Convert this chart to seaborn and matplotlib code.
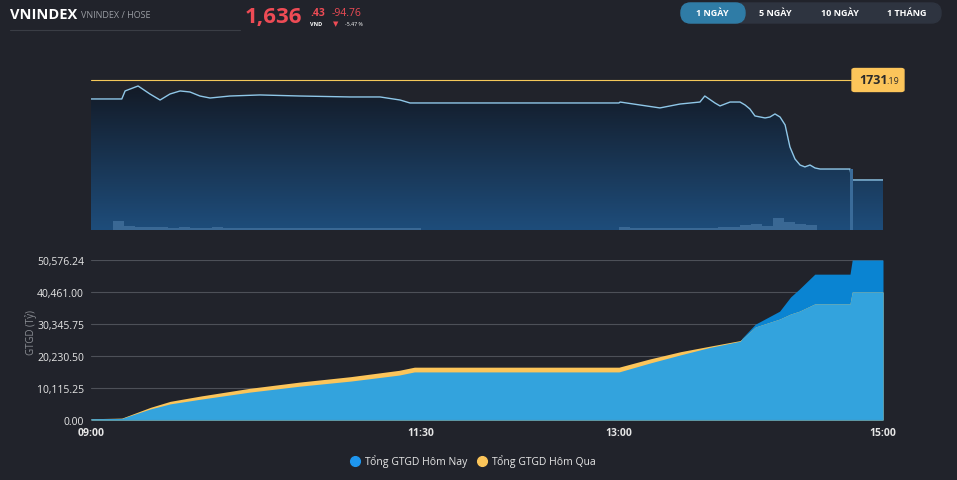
import numpy as np
import pandas as pd
import matplotlib
matplotlib.use("Agg")
import matplotlib.pyplot as plt
from matplotlib.patches import FancyBboxPatch, Polygon
from matplotlib.colors import LinearSegmentedColormap
import seaborn as sns

# ---------------- data ----------------
price_minutes = [0, 14, 15.5, 21.4, 26.8, 31.4, 35.9, 40.5, 45, 49.5, 54.1, 63.2, 76.8, 95, 117.7,
                 131.4, 140.5, 145, 240, 240.5, 249.5, 258.6, 267.7, 276.8, 279, 283.6, 285.9, 290.5,
                 295, 297.3, 299.5, 301.8, 306.4, 308.6, 310.9, 313.2, 315.5, 317.7, 320, 322.3, 324.5,
                 326.8, 329.1, 331.4, 345, 345.9, 360]
price_values = [1713.2, 1713.2, 1720.8, 1725.5, 1717.9, 1712.2, 1717.9, 1720.8, 1719.8, 1716.0, 1714.1,
                1716.0, 1717.0, 1716.0, 1715.1, 1715.1, 1712.2, 1709.4, 1709.4, 1710.3, 1707.5, 1704.7,
                1708.4, 1710.3, 1716.0, 1709.4, 1706.6, 1710.3, 1710.3, 1707.5, 1703.7, 1697.1, 1695.2,
                1696.1, 1699.0, 1696.1, 1688.6, 1667.7, 1656.3, 1650.6, 1648.8, 1650.6, 1647.8, 1646.8,
                1646.8, 1636.43, 1636.43]
reference_price = 1731.19

volume_bins = list(range(0, 360, 5))
volume_values = [0, 0, 9, 4, 3, 3, 3, 2, 3, 2, 2, 3, 2, 2, 2, 2, 2, 2, 2, 2, 2, 2, 2, 2, 2, 2, 2, 2, 2, 2,
                 0, 0, 0, 0, 0, 0, 0, 0, 0, 0, 0, 0, 0, 0, 0, 0, 0, 0,
                 3, 2, 2, 2, 2, 2, 2, 2, 2, 3, 3, 5, 6, 4, 12, 8, 6, 5, 0, 0, 0, 0, 0, 0]
atc_minute = 345.5
atc_volume = 61

value_minutes = [0, 14, 27, 36, 50, 72, 95, 118, 140, 147, 150, 240, 254, 268, 281, 295, 296, 302, 313,
                 318, 322, 329, 345, 346, 360]
today_values = [400, 500, 3500, 5100, 6600, 8800, 10700, 12300, 14200, 15200, 15200, 15200, 18000, 20600,
                22900, 24900, 25900, 30300, 34400, 38900, 41400, 46100, 46100, 50576.24, 50576.24]
yesterday_values = [400, 600, 4000, 5900, 7600, 10000, 12000, 13700, 15700, 16700, 16700, 16700, 19300,
                    21600, 23300, 25100, 25600, 29400, 31900, 33500, 34400, 36700, 36700, 40461, 40461]

y_ticks = [0, 10115.25, 20230.50, 30345.75, 40461.00, 50576.24]
x_ticks = [0, 150, 240, 360]
x_tick_labels = ["09:00", "11:30", "13:00", "15:00"]
legend_labels = ["Tổng GTGD Hôm Nay", "Tổng GTGD Hôm Qua"]

BG = "#21232b"
sns.set_theme(style="dark", rc={"axes.facecolor": BG, "figure.facecolor": BG, "font.family": "Open Sans"})

fig = plt.figure(figsize=(9.57, 4.81), dpi=100)
W, H = 957, 481
def rect(x0, y0, x1, y1):
    return [x0 / W, 1 - y1 / H, (x1 - x0) / W, (y1 - y0) / H]

# ---------------- top chart ----------------
ax1 = fig.add_axes(rect(91, 70, 883, 231))
ax1.set_facecolor(BG)
ymin, ymax = 1589.0, 1741.6
df_p = pd.DataFrame({"m": price_minutes, "p": price_values})
grad = np.linspace(0, 1, 256).reshape(-1, 1)
cmap = LinearSegmentedColormap.from_list("g", ["#1e4d7b", "#131a26"])
im = ax1.imshow(grad, extent=[0, 360, ymin, max(price_values)], origin="lower", aspect="auto",
                cmap=cmap, zorder=1)
verts = [(m, p) for m, p in zip(price_minutes, price_values)] + [(360, ymin), (0, ymin)]
clip = Polygon(verts, closed=True, transform=ax1.transData, facecolor="none", edgecolor="none")
ax1.add_patch(clip)
im.set_clip_path(clip)
sns.lineplot(data=df_p, x="m", y="p", ax=ax1, color="#8fc7e8", lw=1.0, zorder=3)
ax1.axhline(reference_price, color="#f5c85a", lw=0.8, zorder=2)

axv = ax1.twinx()
axv.bar(volume_bins, volume_values, width=5, align="edge", color="#3a6894", edgecolor="none",
        linewidth=0, zorder=2)
axv.bar([atc_minute], [atc_volume], width=1.4, color="#3a6b99", edgecolor="none", linewidth=0, zorder=2)
axv.set_ylim(0, 161)
for a in (ax1, axv):
    a.set_xlim(0, 360)
    a.set_xticks([]); a.set_yticks([])
    a.set_xlabel(""); a.set_ylabel("")
    for s in a.spines.values():
        s.set_visible(False)
ax1.set_ylim(ymin, ymax)

# reference label
fig.patches.append(FancyBboxPatch((853 / W, 1 - 92 / H), 50 / W, 22 / H,
                                  boxstyle="round,pad=0.001,rounding_size=0.003",
                                  transform=fig.transFigure, color="#fcc55a"))
fig.text(859 / W, 1 - 81 / H, "1731", color="#2a2a2a", fontsize=9, fontweight="bold", va="center")
fig.text(886 / W, 1 - 82 / H, ".19", color="#2a2a2a", fontsize=6.5, va="center")

# ---------------- bottom chart ----------------
ax2 = fig.add_axes(rect(91, 261, 883, 421))
ax2.set_facecolor(BG)
df = pd.DataFrame({"m": value_minutes, "today": today_values, "yesterday": yesterday_values})
lower = np.minimum(df["today"], df["yesterday"])
ax2.fill_between(df["m"], 0, df["today"], color="#0a84d2", lw=0, zorder=2)
ax2.fill_between(df["m"], 0, df["yesterday"], color="#fcc55a", lw=0, zorder=2)
ax2.fill_between(df["m"], 0, lower, color="#33a3dd", lw=0, zorder=3)
sns.lineplot(data=df, x="m", y="today", ax=ax2, color="#0a84d2", lw=0, zorder=1)
ax2.set_xlim(0, 360)
ax2.set_ylim(0, 50576.24)
ax2.set_yticks(y_ticks)
ax2.set_yticklabels([f"{v:,.2f}" for v in y_ticks], color="#e6e6e6", fontsize=7.5)
ax2.set_xticks(x_ticks)
ax2.set_xticklabels(x_tick_labels, color="#e6e6e6", fontsize=7.5, fontweight="bold")
ax2.tick_params(length=0, pad=5)
ax2.grid(axis="y", color="#4d5058", lw=0.8, zorder=0)
ax2.grid(axis="x", visible=False)
ax2.set_axisbelow(True)
for s in ax2.spines.values():
    s.set_visible(False)
ax2.axhline(0, color="#777a80", lw=0.8, zorder=4)
ax2.set_xlabel("")
ax2.set_ylabel("GTGD (Tỷ)", color="#8a8d93", fontsize=7)
ax2.yaxis.set_label_coords(-0.068, 0.55)

# legend
fig.add_artist(plt.Line2D([355 / W], [1 - 462 / H], marker="o", ms=7, color="#1e96ef", lw=0))
fig.text(365 / W, 1 - 462 / H, legend_labels[0], color="#e6e6e6", fontsize=7.5, va="center")
fig.add_artist(plt.Line2D([482 / W], [1 - 462 / H], marker="o", ms=7, color="#fcc55a", lw=0))
fig.text(492 / W, 1 - 462 / H, legend_labels[1], color="#e6e6e6", fontsize=7.5, va="center")

# ---------------- header ----------------
fig.text(10 / W, 1 - 15 / H, "VNINDEX", color="white", fontsize=10.5, fontweight="bold", va="center")
fig.text(81 / W, 1 - 16 / H, "VNINDEX / HOSE", color="#9a9da3", fontsize=6.5, va="center")
fig.add_artist(plt.Line2D([10 / W, 240 / W], [1 - 31 / H] * 2, color="#3a3d45", lw=0.8))
fig.text(245 / W, 1 - 18 / H, "1,636", color="#ee4b55", fontsize=16, fontweight="bold", va="center")
fig.text(310 / W, 1 - 13 / H, ".43", color="#ee4b55", fontsize=7.5, fontweight="bold", va="center")
fig.text(310 / W, 1 - 24 / H, "VND", color="white", fontsize=4, fontweight="bold", va="center")
fig.text(332 / W, 1 - 13 / H, "-94.76", color="#ee4b55", fontsize=7.5, va="center")
fig.text(336 / W, 1 - 24 / H, "▼", color="#ee4b55", fontsize=5, va="center", ha="center",
         fontfamily="DejaVu Sans")
fig.text(345 / W, 1 - 24 / H, "-5.47 %", color="white", fontsize=3.8, va="center")

fig.patches.append(FancyBboxPatch((681 / W, 1 - 24 / H), 260 / W, 20 / H,
                                  boxstyle="round,pad=0,rounding_size=0.01", mutation_aspect=2,
                                  transform=fig.transFigure, color="#2e3440"))
fig.patches.append(FancyBboxPatch((681 / W, 1 - 24 / H), 64 / W, 20 / H,
                                  boxstyle="round,pad=0,rounding_size=0.01", mutation_aspect=2,
                                  transform=fig.transFigure, color="#2f7ca6"))
for label, xc in zip(["1 NGÀY", "5 NGÀY", "10 NGÀY", "1 THÁNG"], [712, 775, 840, 907]):
    fig.text(xc / W, 1 - 14 / H, label, color="white", fontsize=6.5, fontweight="bold",
             va="center", ha="center")

fig.savefig("out.png", dpi=100, facecolor=BG)
